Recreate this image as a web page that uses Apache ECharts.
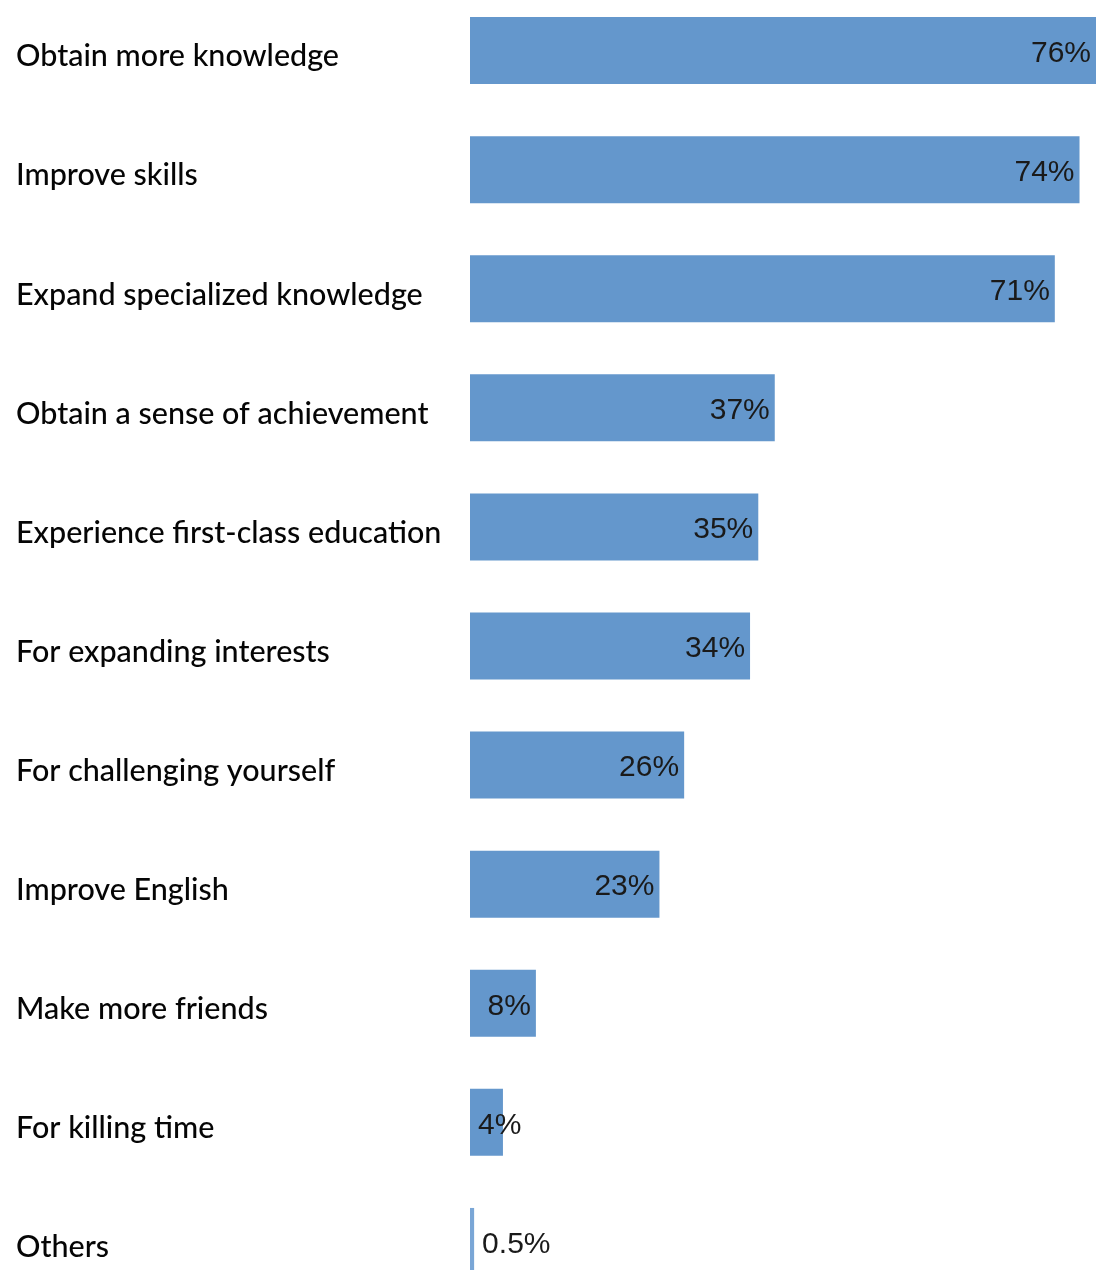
<!DOCTYPE html>
<html>
<head>
<meta charset="utf-8">
<style>
  html, body { margin: 0; padding: 0; background: #ffffff; overflow: hidden; width: 1096px; height: 1270px; }
  /* Chart box runs slightly past the top and bottom of the page so the bands line up with the page edges */
  #chart { width: 1096px; height: 1310px; margin-top: -9px; }
</style>
<script src="https://cdn.jsdelivr.net/npm/echarts@6/dist/echarts.min.js"></script>
</head>
<body>
<div id="chart"></div>
<script>
// Reasons for taking the course (share of respondents, %)
const categories = [
  'Obtain more knowledge',
  'Improve skills',
  'Expand specialized knowledge',
  'Obtain a sense of achievement',
  'Experience first-class education',
  'For expanding interests',
  'For challenging yourself',
  'Improve English',
  'Make more friends',
  'For killing time',
  'Others'
];
const values = [76, 74, 71, 37, 35, 34, 26, 23, 8, 4, 0.5];

const BAR_COLOR = '#6497cc';

const chart = echarts.init(document.getElementById('chart'), null, { renderer: 'canvas' });

const seriesData = values.map(function (v) {
  const item = { value: v };
  if (v < 1) {
    item.label = { position: 'right', distance: 8 };
    item.itemStyle = { color: '#7aa6d6' };
  } else if (v < 6) {
    item.label = { position: 'insideLeft', distance: 8 };
  }
  return item;
});

chart.setOption({
  animation: false,
  backgroundColor: '#ffffff',
  grid: { left: 470, right: 0, top: 0, bottom: 0, containLabel: false },
  xAxis: {
    type: 'value',
    min: 0,
    max: 76,
    show: false
  },
  yAxis: {
    type: 'category',
    inverse: true,
    data: categories,
    axisLine: { show: false },
    axisTick: { show: false },
    splitLine: { show: false },
    axisLabel: {
      align: 'left',
      verticalAlign: 'top',
      lineHeight: 12,
      margin: 454,
      color: '#050505',
      fontFamily: 'Lato, "Open Sans", sans-serif',
      fontSize: 30.5,
      fontWeight: 500
    }
  },
  series: [{
    type: 'bar',
    data: seriesData,
    barWidth: 67,
    itemStyle: { color: BAR_COLOR },
    label: {
      show: true,
      position: 'insideRight',
      distance: 5,
      offset: [0, 3],
      color: '#1a1a1a',
      fontFamily: '"Liberation Sans", Arial, sans-serif',
      fontSize: 30,
      formatter: function (p) { return p.value + '%'; }
    }
  }]
});
</script>
</body>
</html>
